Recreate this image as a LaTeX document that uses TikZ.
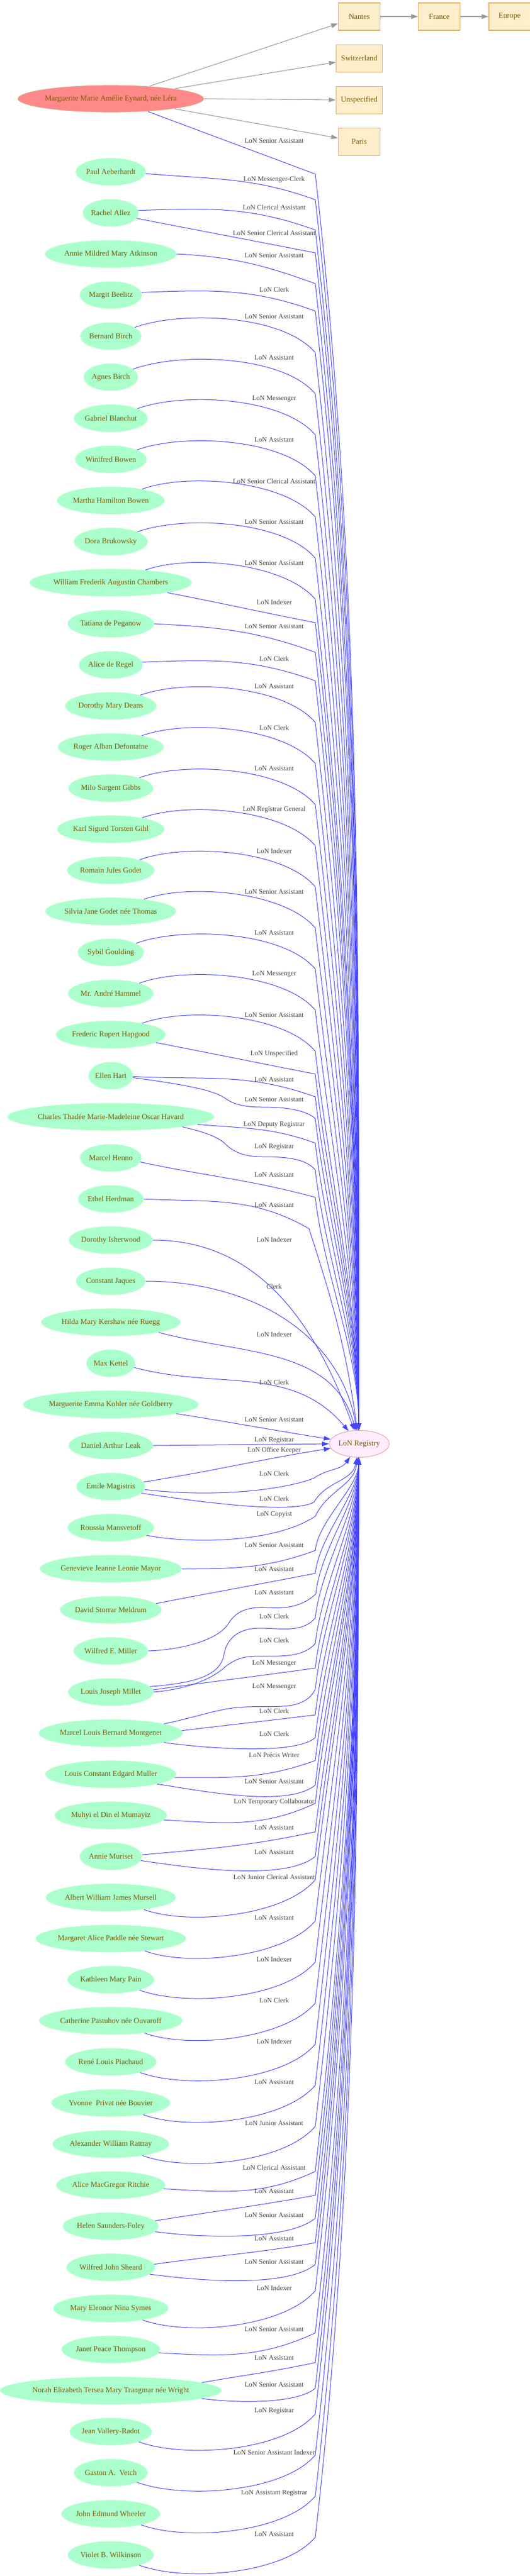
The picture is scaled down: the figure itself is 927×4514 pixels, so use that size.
\documentclass[tikz,border=0pt]{standalone}
\usepackage{fontspec}
\setmainfont{Liberation Serif}
\usetikzlibrary{positioning,arrows.meta,shapes.geometric}
\definecolor{persfill}{RGB}{170,255,204}
\definecolor{persline}{RGB}{205,255,222}
\definecolor{mainfill}{RGB}{255,136,136}
\definecolor{mainline}{RGB}{210,255,210}
\definecolor{placefill}{RGB}{255,238,204}
\definecolor{placeline}{RGB}{228,178,110}
\definecolor{orgfill}{RGB}{255,236,255}
\definecolor{orgline}{RGB}{235,160,165}
\definecolor{nametext}{RGB}{125,90,0}
\definecolor{jobblue}{RGB}{68,68,255}
\definecolor{labelgrey}{RGB}{68,68,68}
\definecolor{placegrey}{RGB}{153,153,153}
\newcommand\namefont{\fontsize{13.3}{16}\selectfont}
\newcommand\jobfont{\fontsize{12}{14}\selectfont}
\newlength\namewd
\tikzset{
  person/.style={ellipse, draw=persline, fill=persfill, text=nametext, font=\namefont, inner xsep=0pt, inner ysep=2pt, minimum height=48pt, line width=0.8pt},
  mainperson/.style={person, fill=mainfill, draw=mainline},
  place/.style={rectangle, draw=placeline, fill=placefill, text=nametext, font=\namefont, minimum width=73pt, minimum height=48pt, inner xsep=8.5pt, line width=1.2pt},
  org/.style={ellipse, draw=orgline, fill=orgfill, text=nametext, font=\namefont, inner xsep=0pt, minimum width=105pt, minimum height=47pt, line width=1pt},
  jobedge/.style={draw=jobblue, line width=1pt, -{Triangle[length=12pt,width=8pt]}},
  placeedge/.style={draw=placegrey, line width=1.1pt, -{Triangle[length=12pt,width=8pt]}},
  joblabel/.style={text=labelgrey, font=\jobfont, inner sep=0pt},
  toup/.style={insert path={.. controls ({552+0.038*(2507-#1)},{-#1-0.33*(2507-#1)}) and (628,{-#1-0.67*(2507-#1)}) .. (reg.92)}},
  todown/.style={insert path={.. controls ({552+0.038*(#1-2553)},{-#1+0.33*(#1-2553)}) and (627,{-#1+0.67*(#1-2553)}) .. (reg.-92)}}
}
\begin{document}
\begin{tikzpicture}[x=1pt,y=1pt]
	\useasboundingbox (0,0) rectangle (927,-4514);
	\settowidth\namewd{\namefont Marguerite Marie Amélie Eynard, née Léra}
	\node[mainperson, minimum width=1.29\namewd+25pt] (main) at (194,-173) {Marguerite Marie Amélie Eynard, née Léra};
	\node[place] (nantes) at (629,-29) {Nantes};
	\node[place, right=66pt of nantes] (france) {France};
	\node[place, right=49pt of france] (europe) {Europe};
	\node[place, below=24pt of nantes] (switzerland) {Switzerland};
	\node[place, below=24pt of switzerland] (unspecified) {Unspecified};
	\node[place, below=24pt of unspecified] (paris) {Paris};
	\node[org] (reg) at (629,-2530) {LoN Registry};

	\foreach \who [count=\i] in {Paul Aeberhardt, Rachel Allez, Annie Mildred Mary Atkinson, Margit Beelitz,
		Bernard Birch, Agnes Birch, Gabriel Blanchut, Winifred Bowen, Martha Hamilton Bowen, Dora Brukowsky,
		William Frederik Augustin Chambers, Tatiana de Peganow, Alice de Regel, Dorothy Mary Deans,
		Roger Alban Defontaine, Milo Sargent Gibbs, Karl Sigurd Torsten Gihl, Romain Jules Godet,
		Silvia Jane Godet née Thomas, Sybil Goulding, Mr. André Hammel, Frederic Rupert Hapgood, Ellen Hart,
		Charles Thadée Marie-Madeleine Oscar Havard, Marcel Henno, Ethel Herdman, Dorothy Isherwood,
		Constant Jaques, Hilda Mary Kershaw née Ruegg, Max Kettel, Marguerite Emma Kohler née Goldberry,
		Daniel Arthur Leak, Emile Magistris, Roussia Mansvetoff, Genevieve Jeanne Leonie Mayor,
		David Storrar Meldrum, Wilfred E. Miller, Louis Joseph Millet, Marcel Louis Bernard Montgenet,
		Louis Constant Edgard Muller, Muhyi el Din el Mumayiz, Annie Muriset, Albert William James Mursell,
		Margaret Alice Paddle née Stewart, Kathleen Mary Pain, Catherine Pastuhov née Ouvaroff,
		René Louis Piachaud, Yvonne\ \ Privat née Bouvier, Alexander William Rattray, Alice MacGregor Ritchie,
		Helen Saunders-Foley, Wilfred John Sheard, Mary Eleonor Nina Symes, Janet Peace Thompson,
		Norah Elizabeth Tersea Mary Trangmar née Wright, Jean Vallery-Radot, Gaston A.\ \ Vetch,
		John Edmund Wheeler, Violet B. Wilkinson}{
		\settowidth\namewd{\namefont\who}
		\node[person, minimum width=1.29\namewd+25pt] (p\i) at (194,{-301-72*(\i-1)}) {\who};
	}

	\draw[placeedge] (main.18) -- (nantes);
	\draw[placeedge] (main.9) -- (switzerland);
	\draw[placeedge] (main.east) -- (unspecified);
	\draw[placeedge] (main.-9) -- (paris);
	\draw[placeedge] (nantes) -- (france);
	\draw[placeedge] (france) -- (europe);

	\draw[jobedge] (main.-19) -- (552,-305) [toup=305];
	\foreach \i/\job in {5/LoN Senior Assistant, 6/LoN Assistant, 7/LoN Messenger, 8/LoN Assistant,
		9/LoN Senior Clerical Assistant, 10/LoN Senior Assistant, 11/LoN Senior Assistant, 14/LoN Assistant,
		15/LoN Clerk, 16/LoN Assistant, 17/LoN Registrar General, 18/LoN Indexer, 19/LoN Senior Assistant,
		20/LoN Assistant, 21/LoN Messenger, 22/LoN Senior Assistant}{
		\pgfmathsetmacro\ky{301+72*(\i-1)+29}
		\draw[jobedge] (p\i.20) to[out=20, in=130, looseness=0.7] (552,-\ky) [toup=\ky];
		\node[joblabel] (humpjob\i) at (480,{-\ky+63}) {\job};
	}
	\foreach \i/\job in {43/LoN Junior Clerical Assistant, 44/LoN Assistant, 45/LoN Indexer, 46/LoN Clerk,
		47/LoN Indexer, 48/LoN Assistant, 49/LoN Junior Assistant, 53/LoN Indexer, 56/LoN Registrar,
		57/LoN Senior Assistant Indexer, 58/LoN Assistant Registrar, 59/LoN Assistant}{
		\pgfmathsetmacro\ky{301+72*(\i-1)-31}
		\draw[jobedge] (p\i.-20) to[out=-20, in=-130, looseness=0.7] (552,-\ky) [todown=\ky];
		\node[joblabel] (dipjob\i) at (480,{-\ky+5}) {\job};
	}
	\foreach \src/\pa/\po/\pin/\plo/\ky/\ly/\job [count=\n] in {1/-3/-5/160/1/350/315/LoN Messenger-Clerk,
		2/5/2/160/1/403/363/LoN Clerical Assistant, 2/-12/-11/169/1/443/408/LoN Senior Clerical Assistant,
		3/0/-3/160/1/497/448/LoN Senior Assistant, 4/5/2/160/1/545/507/LoN Clerk,
		11/-10/-11/169/1/1091/1055/LoN Indexer, 12/0/-3/160/1/1143/1098/LoN Senior Assistant,
		13/5/2/160/1/1193/1154/LoN Clerk, 22/-10/-11/169/1/1882/1847/LoN Unspecified,
		23/-2/-3/160/1/1922/1892/LoN Assistant, 24/-5/-5/160/1/2003/1971/LoN Deputy Registrar,
		25/-8/-12/165/1/2098/2059/LoN Assistant}{
		\draw[jobedge] (p\src.\pa) to[out=\po, in=\pin, looseness=\plo] (552,-\ky) [toup=\ky];
		\node[joblabel] (upjob\n) at (480,-\ly) {\job};
	}
	\foreach \src/\pa/\po/\pin/\plo/\ky/\ly/\job [count=\n] in {35/0/0/-160/1/2717/2708/LoN Senior Assistant,
		36/8/11/-169/1/2757/2750/LoN Assistant, 38/3/8/-172/1/2923/2915/LoN Messenger,
		39/2/7/-173/1/3005/2998/LoN Clerk, 39/-10/-8/-140/0.5/3045/3038/LoN Clerk,
		40/-3/0/-160/1/3085/3075/LoN Précis Writer, 40/-12/-8/-140/0.6/3128/3122/LoN Senior Assistant,
		41/-5/-3/-155/1/3160/3158/LoN Temporary Collaborator, 42/3/5/-168/1/3210/3203/LoN Assistant,
		42/-8/-8/-140/0.6/3253/3246/LoN Assistant, 50/-4/-3/-155/1/3805/3798/LoN Clerical Assistant,
		51/7/9/-170/1/3847/3840/LoN Assistant, 51/-7/-8/-140/0.6/3887/3882/LoN Senior Assistant,
		52/4/8/-170/1/3930/3923/LoN Assistant, 52/-10/-8/-140/0.6/3968/3964/LoN Senior Assistant,
		54/-4/-3/-155/1/4088/4082/LoN Senior Assistant, 55/5/10/-168/1/4140/4132/LoN Assistant,
		55/-5/-8/-140/0.6/4185/4179/LoN Senior Assistant}{
		\draw[jobedge] (p\src.\pa) to[out=\po, in=\pin, looseness=\plo] (552,-\ky) [todown=\ky];
		\node[joblabel] (downjob\n) at (480,-\ly) {\job};
	}

	\draw[jobedge] (p23.-5) .. controls (320,-1900) and (375,-1910) .. (395,-1925) .. controls (410,-1936) and (430,-1940) .. (460,-1940) .. controls (500,-1940) and (535,-1945) .. (552,-1960) [toup=1960];
	\draw[jobedge] (p24.-8) .. controls (365,-1985) and (385,-1995) .. (395,-2005) .. controls (410,-2020) and (430,-2027) .. (460,-2027) .. controls (500,-2027) and (535,-2030) .. (552,-2050) [toup=2050];
	\draw[jobedge] (p26.east) to[out=-3, in=150] (541,-2153) to[out=-72, in=98] (reg.98);
	\draw[jobedge] (p27.east) to[out=0, in=110] (reg.110);
	\draw[jobedge] (p28.east) to[out=0, in=100] (reg.100);
	\draw[jobedge] (p29.-12) to[out=-15, in=105] (reg.105);
	\draw[jobedge] (p30.-10) to[out=-15, in=130] (reg.130);
	\draw[jobedge] (p31.-8) to[out=-9, in=171] (reg.171);
	\draw[jobedge] (p32.east) -- (reg.west);
	\draw[jobedge] (p33.8) to[out=9, in=-171] (reg.-171);
	\draw[jobedge] (p33.-5) .. controls (380,-2625) and (500,-2610) .. (550,-2590) to[out=35, in=-125] (reg.-125);
	\draw[jobedge] (p33.-12) .. controls (400,-2640) and (520,-2650) .. (550,-2632) to[out=60, in=-100] (reg.-100);
	\draw[jobedge] (p34.-12) .. controls (330,-2705) and (480,-2705) .. (552,-2657) to[out=65, in=-97] (reg.-97);
	\draw[jobedge] (p37.east) .. controls (330,-2890) and (385,-2870) .. (400,-2845) .. controls (415,-2820) and (440,-2815) .. (470,-2817) .. controls (510,-2820) and (535,-2810) .. (553,-2793) [todown=2793];
	\draw[jobedge] (p38.8) .. controls (330,-2950) and (385,-2940) .. (392,-2900) .. controls (398,-2865) and (425,-2853) .. (455,-2853) .. controls (490,-2853) and (530,-2862) .. (552,-2835) [todown=2835];
	\draw[jobedge] (p38.0) .. controls (330,-2960) and (375,-2940) .. (395,-2920) .. controls (415,-2905) and (430,-2902) .. (455,-2902) .. controls (490,-2902) and (530,-2905) .. (552,-2880) [todown=2880];
	\draw[jobedge] (p39.10) .. controls (340,-3010) and (380,-2995) .. (416,-2992) .. controls (450,-2989) and (480,-2992) .. (505,-2989) .. controls (530,-2986) and (545,-2975) .. (552,-2960) [todown=2960];
	\foreach \ly/\job [count=\n] in {247/LoN Senior Assistant, 1927/LoN Senior Assistant, 2010/LoN Registrar,
		2112/LoN Assistant, 2172/LoN Indexer, 2254/Clerk, 2338/LoN Indexer, 2422/LoN Clerk,
		2488/LoN Senior Assistant, 2524/LoN Registrar, 2542/LoN Office Keeper, 2582/LoN Clerk, 2626/LoN Clerk,
		2654/LoN Copyist, 2791/LoN Assistant, 2832/LoN Clerk, 2874/LoN Clerk, 2956/LoN Messenger}
		\node[joblabel] (extrajob\n) at (480,-\ly) {\job};
\end{tikzpicture}
\end{document}
